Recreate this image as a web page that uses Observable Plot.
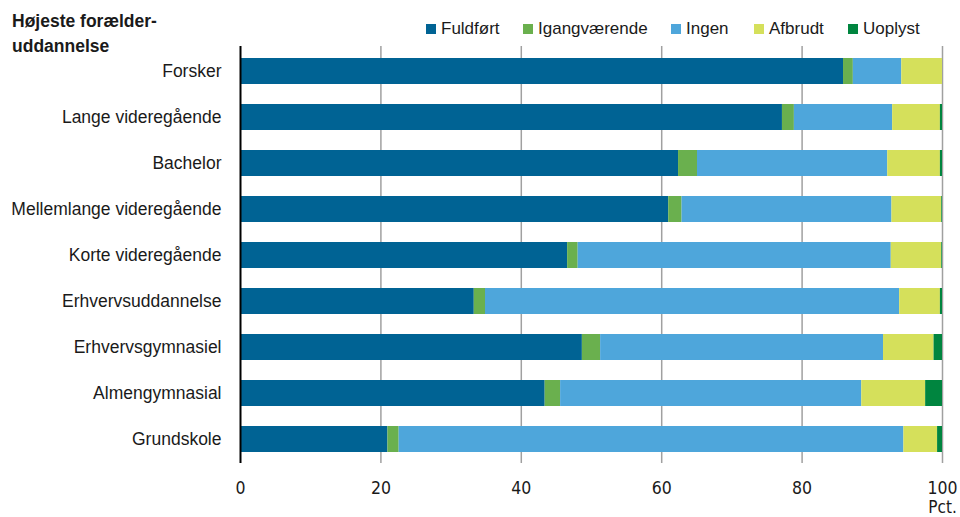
<!DOCTYPE html>
<html>
<head>
<meta charset="utf-8">
<script src="https://cdn.jsdelivr.net/npm/d3@7"></script>
<script src="https://cdn.jsdelivr.net/npm/@observablehq/plot@0.6"></script>
<style>
  html, body { margin: 0; padding: 0; background: #fff; }
  #wrap { position: relative; width: 960px; height: 517px; font-family: "Liberation Sans", Arial, sans-serif; color: #1a1a1a; }
  #title { position: absolute; left: 12px; top: 9px; font-size: 17.5px; font-weight: bold; line-height: 25px; }
  #legend { position: absolute; left: 426px; top: 19px; font-size: 17px; }
  .item { display: flex; align-items: center; white-space: nowrap; position: absolute; top: 0; }
  .sw { width: 10px; height: 10px; margin-right: 5px; }
  svg { position: absolute; left: 0; top: 0; }
</style>
</head>
<body>
<div id="wrap">
  <div id="title">Højeste forælder-<br>uddannelse</div>
  <div id="legend"></div>
</div>
<script>
const categories = ["Forsker", "Lange videregående", "Bachelor", "Mellemlange videregående", "Korte videregående", "Erhvervsuddannelse", "Erhvervsgymnasiel", "Almengymnasial", "Grundskole"];
const series = ["Fuldført", "Igangværende", "Ingen", "Afbrudt", "Uoplyst"];
const colors = ["#006394", "#6ab04e", "#4ea6db", "#d5e05b", "#00853f"];
const fuldfort = [85.9, 77.2, 62.4, 61.0, 46.6, 33.3, 48.7, 43.4, 21.0];
const igang    = [1.4, 1.7, 2.7, 1.9, 1.5, 1.6, 2.6, 2.2, 1.6];
const ingen    = [6.9, 14.0, 27.1, 29.9, 44.6, 59.0, 40.3, 42.9, 71.9];
const afbrudt  = [5.8, 6.8, 7.5, 7.1, 7.2, 5.8, 7.2, 9.1, 4.8];
const uoplyst  = [0.0, 0.3, 0.3, 0.1, 0.1, 0.3, 1.2, 2.4, 0.7];
const xTicks = [0, 20, 40, 60, 80, 100];
const unitLabel = "Pct.";

const cols = [fuldfort, igang, ingen, afbrudt, uoplyst];
const data = [];
categories.forEach((c, i) => series.forEach((s, j) => data.push({cat: c, serie: s, value: cols[j][i]})));

const legendEl = document.getElementById("legend");
const starts = [0, 97, 245, 328, 422];
series.forEach((s, j) => {
  const it = document.createElement("div");
  it.className = "item";
  it.style.left = starts[j] + "px";
  it.innerHTML = `<span class="sw" style="background:${colors[j]}"></span><span>${s}</span>`;
  legendEl.appendChild(it);
});

const narrow = "'Liberation Sans Narrow', 'DejaVu Sans Condensed', sans-serif";
const chart = Plot.plot({
  width: 960,
  height: 517,
  marginLeft: 240,
  marginRight: 18,
  marginTop: 46,
  marginBottom: 54,
  style: {fontFamily: "'Liberation Sans', Arial, sans-serif", fontSize: "17.5px", color: "#1a1a1a", background: "transparent"},
  x: {domain: [0, 100]},
  y: {domain: categories, paddingInner: 0.44, paddingOuter: 0.21},
  color: {domain: series, range: colors},
  marks: [
    Plot.gridX(xTicks.slice(1), {stroke: "#a0a0a0", strokeOpacity: 1, strokeWidth: 1.5}),
    Plot.barX(data, Plot.stackX({x: "value", y: "cat", fill: "serie", order: series})),
    Plot.ruleX([0], {stroke: "#000", strokeWidth: 2}),
    Plot.axisX(xTicks, {tickSize: 0, tickPadding: 18, label: null, fontSize: 17.5, fontFamily: narrow}),
    Plot.axisY({tickSize: 0, tickPadding: 19, label: null}),
    Plot.text([unitLabel], {x: () => 100, frameAnchor: "bottom", dy: 49, fontSize: 17, fontFamily: narrow})
  ]
});
document.getElementById("wrap").prepend(chart);
</script>
</body>
</html>
